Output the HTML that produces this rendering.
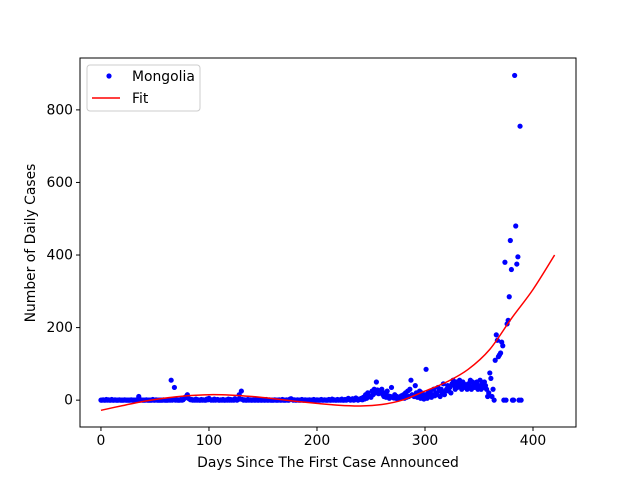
<!DOCTYPE html>
<html><head><meta charset="utf-8"><style>
body{margin:0;background:#fff}
svg text{font-family:"DejaVu Sans","Liberation Sans",sans-serif;font-size:13.9px;fill:#000}
</style></head><body>
<svg id="chart" width="640" height="480" xmlns="http://www.w3.org/2000/svg">
<rect width="640" height="480" fill="#fff"/>
<g id="marks"></g>
<rect x="80" y="58" width="496" height="369" fill="none" stroke="#000" stroke-width="1"/>
<g id="axes"></g>
<text x="328" y="467" text-anchor="middle">Days Since The First Case Announced</text>
<text transform="translate(35,243) rotate(-90)" text-anchor="middle">Number of Daily Cases</text>
<g>
<rect x="87" y="65" width="113" height="46" rx="3" fill="#fff" stroke="#ccc"/>
<circle cx="109" cy="76" r="2.6" fill="#0000ff"/>
<text x="132" y="81">Mongolia</text>
<line x1="92" y1="98" x2="120" y2="98" stroke="#ff0000" stroke-width="1.5"/>
<text x="132" y="103">Fit</text>
</g>
</svg>
<script>
const dailyCases = [
0,0,1,0,0,2,0,1,0,0, 2,0,0,1,0,0,0,1,0,0, 0,0,1,0,0,0,0,0,1,0, 0,0,0,0,2,10,0,1,0,0,
0,0,1,0,0,0,0,0,2,0, 0,1,0,0,0,0,0,0,1,0, 0,0,0,2,0,55,0,3,35,0, 1,0,0,0,2,0,1,4,8,10,
15,5,3,1,2,0,1,0,3,0, 1,0,0,2,0,1,0,0,3,1, 5,2,0,1,0,3,0,1,2,0, 0,1,0,2,0,0,1,0,3,0,
2,0,1,0,4,1,0,2,15,3, 25,2,0,1,0,0,2,0,1,0, 0,1,0,0,2,0,0,1,0,0, 1,0,0,2,0,0,1,0,0,0,
0,1,0,0,0,1,0,0,2,0, 0,0,1,0,0,3,4,2,0,1, 0,0,1,0,0,0,2,0,0,1, 0,0,0,1,0,0,0,2,0,0,
1,0,0,0,2,0,0,1,0,0, 0,2,0,0,3,0,1,0,0,2, 0,1,0,3,0,0,2,0,1,5, 3,0,2,4,0,1,6,2,0,3,
2,5,1,8,3,15,5,20,10,12, 8,25,15,30,20,50,28,18,22,25, 30,15,10,20,8,25,12,5,10,35,
8,6,15,5,10,3,8,5,12,10, 15,5,20,8,25,10,30,55,15,12, 10,40,20,8,15,25,5,20,10,3,
15,85,5,20,10,25,8,15,30,12, 20,15,35,25,10,30,20,45,15,25, 30,40,25,35,20,45,55,40,30,50,
35,45,55,40,30,50,45,35,40,30, 45,40,55,30,50,40,35,45,50,30, 40,55,30,45,35,50,40,30,10,20
];
const lateDays = [360,361,362,363,364,365,366,367,368,369,370,371,372,373,374,375,376,377,378,379,380,381,382,383,384,385,386,387,388,389];
const lateCases = [75,60,10,30,0,110,180,165,120,125,130,160,150,0,380,0,210,220,285,440,360,0,0,895,480,375,395,0,755,0];
const fitDays = [0,20,40,60,80,100,120,140,160,180,200,220,240,260,280,300,320,340,360,380,400,420];
const fitValues = [-28,-15,-3,6,12,15,14,10,4,-3,-9,-14,-16,-12,1,25,50,85,140,225,305,400];
const xTicks = [0,100,200,300,400];
const yTicks = [0,200,400,600,800];

const X0=80,X1=576,Y0=58,Y1=427, xMin=-19.4,xMax=439.8,yMin=-74,yMax=943;
function sx(v){return X0+(v-xMin)/(xMax-xMin)*(X1-X0);}
function sy(v){return Y1-(v-yMin)/(yMax-yMin)*(Y1-Y0);}
const NS="http://www.w3.org/2000/svg";
const marks=document.getElementById('marks'), axes=document.getElementById('axes');
function pt(d,v){
  const c=document.createElementNS(NS,'circle');
  c.setAttribute('cx',sx(d));c.setAttribute('cy',sy(v));c.setAttribute('r',2.6);c.setAttribute('fill','#0000ff');
  
  
  marks.appendChild(c);
}
dailyCases.forEach((v,i)=>pt(i,v));
lateDays.forEach((d,i)=>pt(d,lateCases[i]));
// smooth Catmull-Rom path through fit samples
const P=fitDays.map((d,i)=>[sx(d),sy(fitValues[i])]);
let dstr='M'+P[0][0]+','+P[0][1];
for(let i=0;i<P.length-1;i++){
  const p0=P[Math.max(i-1,0)],p1=P[i],p2=P[i+1],p3=P[Math.min(i+2,P.length-1)];
  const c1=[p1[0]+(p2[0]-p0[0])/6,p1[1]+(p2[1]-p0[1])/6];
  const c2=[p2[0]-(p3[0]-p1[0])/6,p2[1]-(p3[1]-p1[1])/6];
  dstr+=' C'+c1[0]+','+c1[1]+' '+c2[0]+','+c2[1]+' '+p2[0]+','+p2[1];
}
const fit=document.createElementNS(NS,'path');
fit.setAttribute('d',dstr);
fit.setAttribute('fill','none');fit.setAttribute('stroke','#ff0000');fit.setAttribute('stroke-width','1.5');


marks.appendChild(fit);
xTicks.forEach(t=>{
  const l=document.createElementNS(NS,'line');
  l.setAttribute('x1',sx(t));l.setAttribute('x2',sx(t));l.setAttribute('y1',Y1);l.setAttribute('y2',Y1+4);l.setAttribute('stroke','#000');
  
  
  axes.appendChild(l);
  const tx=document.createElementNS(NS,'text');
  tx.setAttribute('x',sx(t));tx.setAttribute('y',Y1+18);tx.setAttribute('text-anchor','middle');tx.textContent=t;
  
  
  axes.appendChild(tx);
});
yTicks.forEach(t=>{
  const l=document.createElementNS(NS,'line');
  l.setAttribute('x1',X0-4);l.setAttribute('x2',X0);l.setAttribute('y1',sy(t));l.setAttribute('y2',sy(t));l.setAttribute('stroke','#000');
  
  
  axes.appendChild(l);
  const tx=document.createElementNS(NS,'text');
  tx.setAttribute('x',X0-7);tx.setAttribute('y',sy(t)+4.5);tx.setAttribute('text-anchor','end');tx.textContent=t;
  
  
  axes.appendChild(tx);
});
</script>
</body></html>
